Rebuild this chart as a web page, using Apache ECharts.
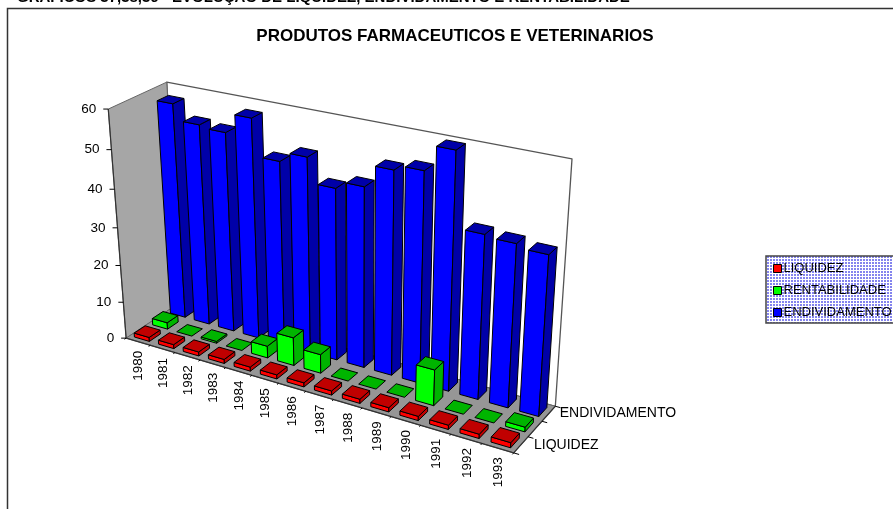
<!DOCTYPE html>
<html>
<head>
<meta charset="utf-8">
<style>html,body{margin:0;padding:0;background:#fff}#c{width:893px;height:509px}</style>
<script src="https://cdn.jsdelivr.net/npm/echarts@6/dist/echarts.min.js"></script>
</head>
<body>
<div id="c"></div>
<script>
const categories = ['1980','1981','1982','1983','1984','1985','1986','1987','1988','1989','1990','1991','1992','1993'];
const liquidez = [1.1,1.1,1.1,1.1,1.1,1.1,1.1,1.1,1.1,1.1,1.1,1.1,1.1,1.3];
const rentabilidade = [1.8,0,0.5,0,3.2,7.5,5,0,0,0,9.3,0,0,1.2];
const endividamento = [57.3,53.3,52.7,57.6,48.3,50.8,44.6,46.5,52,53.3,59.5,41.4,40.9,40];
const yTicks = [0,10,20,30,40,50,60];
const depthLabels = ['LIQUIDEZ','','ENDIVIDAMENTO'];
const titleText = 'PRODUTOS FARMACEUTICOS E VETERINARIOS';
const topText = 'GRÁFICOS 37,38,39 - EVOLUÇÃO DE LIQUIDEZ, ENDIVIDAMENTO E RENTABILIDADE';

// Scene calibration: [u, d, h] -> pixel of the box corners
const corners = [
  [0,0,0,127,339],[1,0,0,513,453],[1,1,0,556,406],[0,1,0,179,302],
  [0,0,1,108,108],[0,1,1,167,83],[1,1,1,572,159]
];
function solve(A,b){
  const n=b.length, M=A.map((r,i)=>r.concat([b[i]]));
  for(let i=0;i<n;i++){
    let p=i; for(let k=i+1;k<n;k++) if(Math.abs(M[k][i])>Math.abs(M[p][i])) p=k;
    [M[i],M[p]]=[M[p],M[i]];
    for(let k=i+1;k<n;k++){const f=M[k][i]/M[i][i]; for(let j=i;j<=n;j++) M[k][j]-=f*M[i][j];}
  }
  const x=new Array(n);
  for(let i=n-1;i>=0;i--){let s=M[i][n]; for(let j=i+1;j<n;j++) s-=M[i][j]*x[j]; x[i]=s/M[i][i];}
  return x;
}
function fit(){
  const rows=[],rhs=[];
  corners.forEach(c=>{
    const [u,d,h,X,Y]=c, x=X/500, y=Y/500;
    rows.push([u,d,h,1,0,0,0,0,-x*u,-x*d,-x*h]); rhs.push(x);
    rows.push([0,0,0,0,u,d,h,1,-y*u,-y*d,-y*h]); rhs.push(y);
  });
  const n=11,A=[],b=[];
  for(let i=0;i<n;i++){A.push(new Array(n).fill(0));b.push(0);
    for(let r=0;r<rows.length;r++){b[i]+=rows[r][i]*rhs[r];for(let j=0;j<n;j++)A[i][j]+=rows[r][i]*rows[r][j];}}
  return solve(A,b);
}
const P=fit();
function proj(u,d,h){
  const w=P[8]*u+P[9]*d+P[10]*h+1;
  return [500*(P[0]*u+P[1]*d+P[2]*h+P[3])/w, 500*(P[4]*u+P[5]*d+P[6]*h+P[7])/w];
}
const BAR_U=0.62, BAR_D=0.6;
const FONT='"Liberation Sans", Arial, sans-serif';

function poly(pts,fill,stroke,lw){
  return {type:'polygon',shape:{points:pts},style:{fill:fill,stroke:stroke,lineWidth:lw,lineJoin:'round'},silent:true};
}
function barRender(row,front,dark){
  return function(params,api){
    const cs=params.coordSys, i=api.value(0), v=api.value(1);
    const c=api.coord([i,v]), z=api.coord([i,0]);
    const cell=api.size([1,0])[0];
    const uc=(c[0]-cs.x)/cs.width, du=(cell/cs.width)*BAR_U/2;
    const h=(z[1]-c[1])/cs.height;
    const dc=(row+0.5)/3, dd=BAR_D/6;
    const u0=uc-du,u1=uc+du,d0=dc-dd,d1=dc+dd;
    const kids=[];
    if(h>0){
      kids.push(poly([proj(u0,d0,0),proj(u1,d0,0),proj(u1,d0,h),proj(u0,d0,h)],front,'#000',1));
      kids.push(poly([proj(u1,d0,0),proj(u1,d1,0),proj(u1,d1,h),proj(u1,d0,h)],dark,'#000',1));
    }
    kids.push(poly([proj(u0,d0,h),proj(u1,d0,h),proj(u1,d1,h),proj(u0,d1,h)],dark,'#000',1));
    return {type:'group',children:kids};
  };
}
function sceneRender(params,api){
  const cs=params.coordSys, kids=[];
  kids.push(poly([proj(0,1,0),proj(1,1,0),proj(1,1,1),proj(0,1,1)],'#fff','#555',1.3));
  kids.push(poly([proj(0,0,0),proj(0,1,0),proj(0,1,1),proj(0,0,1)],'#a6a6a6','#666',1));
  kids.push(poly([proj(0,0,0),proj(1,0,0),proj(1,1,0),proj(0,1,0)],'#969696','#666',1));
  const ln=(a,b,c,w)=>({type:'line',shape:{x1:a[0],y1:a[1],x2:b[0],y2:b[1]},style:{stroke:c||'#000',lineWidth:w||1},silent:true});
  kids.push(ln(proj(0,0,0),proj(0,0,1),'#333',1.2));
  kids.push(ln(proj(0,0,0),proj(1,0,0),'#333',1.2));
  kids.push(ln(proj(1,0,0),proj(1,1,0),'#333',1.2));
  yTicks.forEach(t=>{
    const c=api.coord([0,t]), h=(api.coord([0,0])[1]-c[1])/cs.height, p=proj(0,0,h);
    kids.push(ln([p[0]-5,p[1]],p,'#000',1));
    kids.push({type:'text',silent:true,style:{text:String(t),x:p[0]-12,y:p[1],align:'right',verticalAlign:'middle',fontSize:13.5,fontFamily:FONT,fill:'#000'}});
  });
  categories.forEach((name,i)=>{
    const c=(api.coord([i,0])[0]-cs.x)/cs.width, half=api.size([1,0])[0]/cs.width/2;
    const p0=proj(c-half,0,0), q0=proj(c-half,-0.03,0);
    kids.push(ln(p0,q0,'#000',1));
    if(i===categories.length-1) kids.push(ln(proj(c+half,0,0),proj(c+half,-0.03,0),'#000',1));
    const e=proj(c,0,0);
    kids.push({type:'text',silent:true,x:e[0]+0.5,y:e[1]+9,rotation:Math.PI/2,style:{text:name,x:0,y:0,align:'right',verticalAlign:'middle',fontSize:13.5,fontFamily:FONT,fill:'#000'}});
  });
  depthLabels.forEach((name,r)=>{
    kids.push(ln(proj(1,r/3,0),proj(1.012,r/3,0),'#000',1));
    if(r===2) kids.push(ln(proj(1,1,0),proj(1.012,1,0),'#000',1));
    if(name){
      const e=proj(1,(r+0.5)/3,0);
      kids.push({type:'text',silent:true,style:{text:name,x:e[0]+13-r,y:e[1]-(r?1:0),align:'left',verticalAlign:'middle',fontSize:14,fontFamily:FONT,fill:'#000'}});
    }
  });
  return {type:'group',children:kids};
}
function pattern(){
  const cv=document.createElement('canvas'); cv.width=3; cv.height=3;
  const g=cv.getContext('2d'); g.fillStyle='#ffffff'; g.fillRect(0,0,3,3);
  g.fillStyle='#8484ee'; g.fillRect(0,0,2,2);
  return {image:cv,repeat:'repeat'};
}
function toPairs(a){return a.map((v,i)=>[i,v]);}
const chart=echarts.init(document.getElementById('c'),null,{renderer:'canvas'});
chart.setOption({
  animation:false,
  backgroundColor:'#fff',
  title:{text:titleText,left:450,top:23,textAlign:'center',textStyle:{fontFamily:FONT,fontWeight:'bold',fontSize:17,color:'#000'}},
  legend:{
    data:['LIQUIDEZ','RENTABILIDADE','ENDIVIDAMENTO'],orient:'vertical',left:766,top:256,
    padding:[6,8,4,7],itemWidth:8,itemHeight:8,itemGap:9,icon:'rect',
    backgroundColor:pattern(),borderColor:'#444',borderWidth:1.5,
    textStyle:{fontFamily:FONT,fontSize:13,color:'#000',padding:[0,0,0,-3]},
    itemStyle:{borderColor:'#000',borderWidth:1}
  },
  graphic:[
    {type:'text',left:17,top:-10,silent:true,style:{text:topText,fontFamily:FONT,fontWeight:'bold',fontSize:15,fill:'#000'}},
    {type:'rect',silent:true,shape:{x:7.5,y:8.5,width:1000,height:600},style:{fill:'none',stroke:'#333',lineWidth:1.5},z:-1}
  ],
  grid:{left:0,right:0,top:0,bottom:0},
  xAxis:{type:'category',data:categories,show:false,boundaryGap:true},
  yAxis:{type:'value',min:0,max:60,interval:10,show:false},
  series:[
    {type:'custom',name:'SCENE',z:1,renderItem:sceneRender,data:[[0,0]],encode:{x:0,y:1},silent:true,clip:false},
    {type:'custom',name:'ENDIVIDAMENTO',z:2,itemStyle:{color:'#0000ff'},renderItem:barRender(2,'#0000ff','#0000a8'),data:toPairs(endividamento),encode:{x:0,y:1},silent:true},
    {type:'custom',name:'RENTABILIDADE',z:3,itemStyle:{color:'#00ff00'},renderItem:barRender(1,'#00ff00','#00b400'),data:toPairs(rentabilidade),encode:{x:0,y:1},silent:true},
    {type:'custom',name:'LIQUIDEZ',z:4,itemStyle:{color:'#ff0000'},renderItem:barRender(0,'#ff0000','#c00000'),data:toPairs(liquidez),encode:{x:0,y:1},silent:true}
  ]
});
</script>
</body>
</html>
